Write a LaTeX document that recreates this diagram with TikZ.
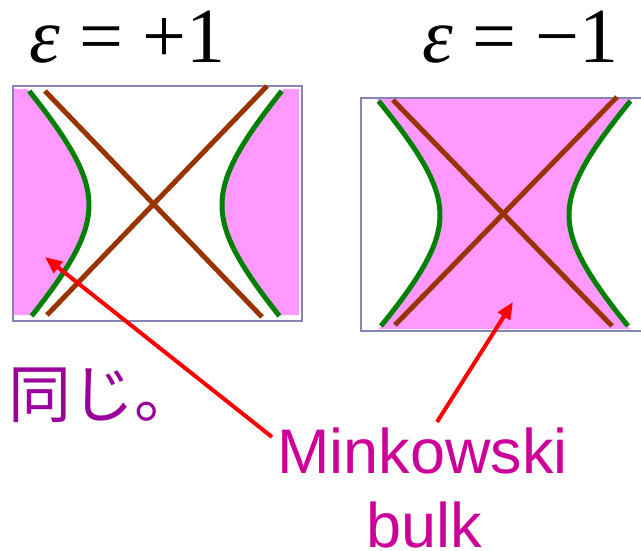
\documentclass[tikz,border=0pt]{standalone}
\usepackage{fontspec}
\setmainfont{Liberation Serif}
\newfontfamily\sansfont{Liberation Sans}
\newfontfamily\cjkfont{Noto Sans CJK JP}
\usetikzlibrary{arrows.meta}
\definecolor{bulkpink}{HTML}{FF99FF}
\definecolor{hypgreen}{HTML}{008000}
\definecolor{conebrown}{HTML}{993300}
\definecolor{framegray}{HTML}{8585B5}
\definecolor{labelpurple}{HTML}{990099}
\definecolor{labelmagenta}{HTML}{CC0099}

\begin{document}
\begin{tikzpicture}[x=1pt, y=-1pt, >={Triangle[length=17pt,width=14pt]},
  frame/.style={draw=framegray, line width=1.2pt},
  hyper/.style={hypgreen, line width=5pt},
  cone/.style={conebrown, line width=5pt},
  pointer/.style={->, red, line width=4pt},
  eps/.style={font=\fontsize{78}{90}\selectfont, inner sep=0pt, anchor=base west},
  bulklabel/.style={text=labelmagenta, font=\sansfont\fontsize{63}{77}\selectfont, inner sep=0pt, anchor=base}]
  \useasboundingbox (0,0) rectangle (641,551);

  % epsilon = +1: bulk outside the hyperbolae
  \fill[bulkpink] (13,89) -- plot[variable=\t, domain=89:315, samples=50]
    ({155.5-66.5*sqrt(1+((\t-205)/70.6)^2)}, \t) -- (13,315) -- cycle;
  \fill[bulkpink] (299,89) -- plot[variable=\t, domain=89:315, samples=50]
    ({155.5+66.5*sqrt(1+((\t-205)/70.6)^2)}, \t) -- (299,315) -- cycle;
  \draw[frame] (13,86) rectangle (302,321);
  \draw[cone] (45,91) -- (262,317);
  \draw[cone] (267,86) -- (47,315);
  \draw[hyper] plot[variable=\t, domain=91:316, samples=50]
    ({155.5-66.5*sqrt(1+((\t-205)/70.6)^2)}, \t);
  \draw[hyper] plot[variable=\t, domain=91:316, samples=50]
    ({155.5+66.5*sqrt(1+((\t-205)/70.6)^2)}, \t);

  % epsilon = -1: bulk between the hyperbolae
  \fill[bulkpink] plot[variable=\t, domain=98:329, samples=50]
    ({504.5-64.5*sqrt(1+((\t-215)/68)^2)}, \t)
    -- plot[variable=\t, domain=329:98, samples=50]
    ({504.5+64.5*sqrt(1+((\t-215)/68)^2)}, \t) -- cycle;
  \draw[frame] (641,98) -- (361,98) -- (361,331) -- (641,331);
  \draw[cone] (393,100) -- (612,326);
  \draw[cone] (617,97) -- (395,325);
  \draw[hyper] plot[variable=\t, domain=101:326, samples=50]
    ({504.5-64.5*sqrt(1+((\t-215)/68)^2)}, \t);
  \draw[hyper] plot[variable=\t, domain=101:326, samples=50]
    ({504.5+64.5*sqrt(1+((\t-215)/68)^2)}, \t);

  % labels
  \node[eps] (epsplus) at (29,63) {{\itshape ε} = +1};
  \node[eps] (epsminus) at (422,63) {{\itshape ε} = −1};
  \node[text=labelpurple, font=\cjkfont\fontsize{63}{70}\selectfont,
    inner sep=0pt, anchor=base west] (same) at (8,417) {同じ。};
  \node[bulklabel] (mink) at (422.5,473) {Minkowski};
  \node[bulklabel] (bulk) at (424.5,547) {bulk};

  % pointers to the bulk
  \coordinate (tailL) at (272,437);
  \coordinate (tailR) at (437,422);
  \coordinate (tipL) at (45,257);
  \coordinate (tipR) at (513,302);
  \draw[pointer] (tailL) -- (tipL);
  \draw[pointer] (tailR) -- (tipR);
\end{tikzpicture}
\end{document}
